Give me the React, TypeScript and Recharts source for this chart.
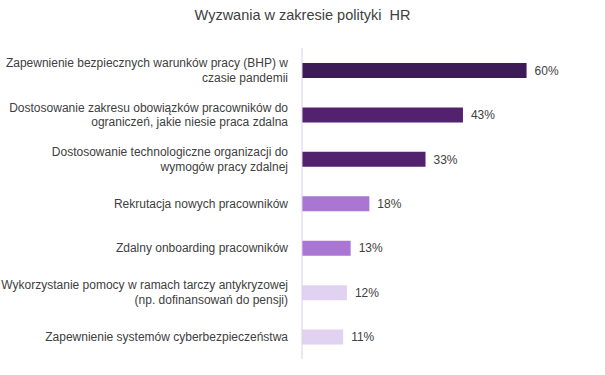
import { BarChart, Bar, XAxis, YAxis, Cell, LabelList } from "recharts";

const categories = [
  "Zapewnienie bezpiecznych warunków pracy (BHP) w\nczasie pandemii",
  "Dostosowanie zakresu obowiązków pracowników do\nograniczeń, jakie niesie praca zdalna",
  "Dostosowanie technologiczne organizacji do\nwymogów pracy zdalnej",
  "Rekrutacja nowych pracowników",
  "Zdalny onboarding pracowników",
  "Wykorzystanie pomocy w ramach tarczy antykryzowej\n(np. dofinansowań do pensji)",
  "Zapewnienie systemów cyberbezpieczeństwa",
];
const values = [60, 43, 33, 18, 13, 12, 11];
const title = "Wyzwania w zakresie polityki  HR";

const barColors = ["#3c1b56", "#52226f", "#52226f", "#aa76d4", "#aa76d4", "#e2d2f1", "#e2d2f1"];

const data = categories.map((name, i) => ({ name, value: values[i] }));

const FONT = "'Liberation Sans', Arial, sans-serif";

function CategoryTick({ x, y, payload }: any) {
  const lines = String(payload.value).split("\n");
  const lh = 14.5;
  const start = y - ((lines.length - 1) * lh) / 2;
  const tx = x - 6;
  return (
    <text x={tx} y={start} textAnchor="end" fontSize={12} fill="#404040" fontFamily={FONT}>
      {lines.map((l, i) => (
        <tspan key={i} x={tx} y={start + i * lh} dy="0.35em">
          {l}
        </tspan>
      ))}
    </text>
  );
}

export default function App() {
  return (
    <div style={{ position: "absolute", left: 0, top: 0, width: 605, height: 375, background: "#fff" }}>
      <div
        style={{
          position: "absolute",
          top: 7,
          left: 0,
          width: 605,
          textAlign: "center",
          fontFamily: FONT,
          fontSize: 14.5,
          color: "#404040",
          whiteSpace: "pre",
        }}
      >
        {title}
      </div>
      <BarChart
        width={605}
        height={375}
        data={data}
        layout="vertical"
        margin={{ top: 48, right: 41, bottom: 16, left: 0 }}
        barCategoryGap={0}
      >
        <XAxis type="number" domain={[0, 70]} hide />
        <YAxis
          type="category"
          dataKey="name"
          width={302}
          tick={<CategoryTick />}
          tickLine={false}
          axisLine={{ stroke: "#dccdec" }}
          interval={0}
        />
        <Bar dataKey="value" barSize={15} isAnimationActive={false}>
          {data.map((_, i) => (
            <Cell key={i} fill={barColors[i]} />
          ))}
          <LabelList
            dataKey="value"
            position="right"
            offset={8}
            formatter={(v: any) => `${v}%`}
            style={{ fontSize: 12, fill: "#404040", fontFamily: FONT }}
          />
        </Bar>
      </BarChart>
    </div>
  );
}
